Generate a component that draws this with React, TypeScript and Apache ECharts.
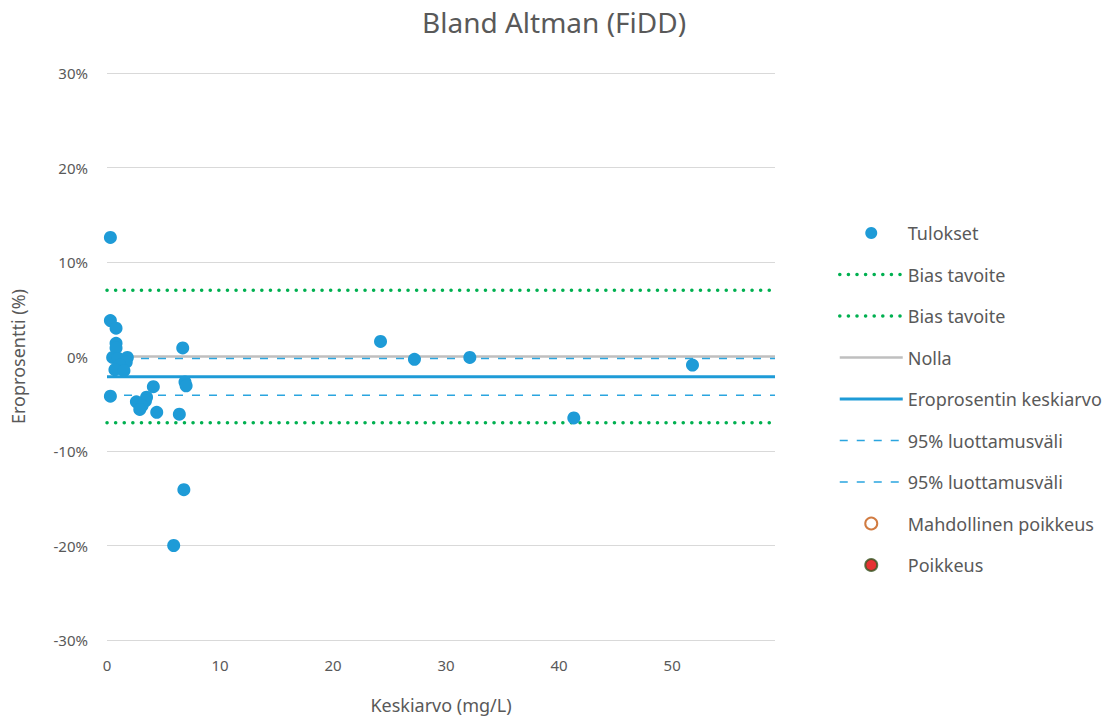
import React, { useEffect, useRef } from "react";
import * as echarts from "echarts";

// Bland-Altman points: x = average (mg/L), y = difference (%)
const avgValues = [0.3, 0.3, 0.8, 0.8, 0.8, 0.5, 1.0, 1.8, 1.7, 1.1, 0.7, 1.5, 0.3, 6.7, 6.9, 7.0, 4.1, 3.5, 3.4, 2.6, 3.1, 2.9, 4.4, 6.4, 6.8, 5.9, 24.2, 27.2, 32.1, 41.3, 51.8];
const diffValues = [12.6, 3.8, 3.0, 1.4, 0.9, -0.1, -0.2, -0.1, -0.6, -0.9, -1.4, -1.5, -4.2, 0.9, -2.7, -3.1, -3.2, -4.3, -4.7, -4.8, -5.2, -5.6, -5.9, -6.1, -14.1, -20.0, 1.6, -0.3, -0.1, -6.5, -0.9];

const biasTargetUpper = 7;
const biasTargetLower = -7;
const zeroLevel = 0;
const meanDiff = -2.15;
const ciUpper = -0.2;
const ciLower = -4.1;

const xRange = [0, 59.1];
const yTicks = [-30, -20, -10, 0, 10, 20, 30];

const legendNames = [
  "Tulokset",
  "Bias tavoite",
  "Bias tavoite ",
  "Nolla",
  "Eroprosentin keskiarvo",
  "95% luottamusväli",
  "95% luottamusväli ",
  "Mahdollinen poikkeus",
  "Poikkeus",
];
const lineLegendNames = [
  "Bias tavoite",
  "Bias tavoite ",
  "Nolla",
  "Eroprosentin keskiarvo",
  "95% luottamusväli",
  "95% luottamusväli ",
];

const FONT = "'Noto Sans', sans-serif";
const TEXT = "#595959";
const BLUE = "#1E9BD7";

function hLine(v: number) {
  return [
    [xRange[0], v],
    [xRange[1], v],
  ];
}

export default function App() {
  const ref = useRef<HTMLDivElement>(null);
  useEffect(() => {
    if (!ref.current) return;
    const chart = echarts.init(ref.current, undefined, { renderer: "svg" });
    const points = avgValues.map((x, i) => [x, diffValues[i]]);
    const lineBase = {
      type: "line" as const,
      symbol: "none",
      silent: true,
      z: 1,
    };
    chart.setOption({
      animation: false,
      textStyle: { fontFamily: FONT },
      title: {
        text: "Bland Altman (FiDD)",
        left: 417,
        top: 3,
        textStyle: { fontFamily: FONT, fontSize: 28, fontWeight: "normal", color: TEXT },
      },
      grid: { left: 107, right: 343, top: 73, bottom: 79 },
      legend: {
        orient: "vertical",
        left: 838,
        top: 224,
        itemWidth: 63,
        itemHeight: 12,
        itemGap: 23.5,
        padding: 0,
        lineStyle: { width: "inherit" },
        textStyle: { fontFamily: FONT, fontSize: 18, color: TEXT },
        data: legendNames.map((n) =>
          lineLegendNames.includes(n) ? { name: n, itemStyle: { opacity: 0 } } : { name: n }
        ),
      },
      xAxis: {
        type: "value",
        min: xRange[0],
        max: xRange[1],
        interval: 10,
        name: "Keskiarvo (mg/L)",
        nameLocation: "middle",
        nameGap: 56,
        nameTextStyle: { fontFamily: FONT, fontSize: 18, color: TEXT },
        axisLine: { show: false },
        axisTick: { show: false },
        splitLine: { show: false },
        axisLabel: {
          fontFamily: FONT,
          fontSize: 15,
          color: TEXT,
          margin: 17,
          showMaxLabel: false,
        },
      },
      yAxis: {
        type: "value",
        min: yTicks[0],
        max: yTicks[yTicks.length - 1],
        interval: 10,
        name: "Eroprosentti (%)",
        nameLocation: "middle",
        nameGap: 80,
        nameTextStyle: { fontFamily: FONT, fontSize: 18, color: TEXT },
        axisLine: { show: false },
        axisTick: { show: false },
        splitLine: { lineStyle: { color: "#D9D9D9", width: 1 } },
        axisLabel: {
          fontFamily: FONT,
          fontSize: 15,
          color: TEXT,
          margin: 19,
          formatter: (v: number) => `${v}%`,
        },
      },
      series: [
        {
          name: "Nolla",
          ...lineBase,
          data: hLine(zeroLevel),
          lineStyle: { color: "#BFBFBF", width: 2.5 },
          itemStyle: { color: "#BFBFBF" },
        },
        {
          name: "Bias tavoite",
          ...lineBase,
          data: hLine(biasTargetUpper),
          lineStyle: { color: "#00B050", width: 3.5, type: [0.1, 8.5], cap: "round" },
          itemStyle: { color: "#00B050" },
        },
        {
          name: "Bias tavoite ",
          ...lineBase,
          data: hLine(biasTargetLower),
          lineStyle: { color: "#00B050", width: 3.5, type: [0.1, 8.5], cap: "round" },
          itemStyle: { color: "#00B050" },
        },
        {
          name: "Eroprosentin keskiarvo",
          ...lineBase,
          data: hLine(meanDiff),
          lineStyle: { color: BLUE, width: 3 },
          itemStyle: { color: BLUE },
        },
        {
          name: "95% luottamusväli",
          ...lineBase,
          data: hLine(ciUpper),
          lineStyle: { color: "#2AA5DF", width: 1.5, type: [8, 9] },
          itemStyle: { color: "#2AA5DF" },
        },
        {
          name: "95% luottamusväli ",
          ...lineBase,
          data: hLine(ciLower),
          lineStyle: { color: "#2AA5DF", width: 1.5, type: [8, 9] },
          itemStyle: { color: "#2AA5DF" },
        },
        {
          name: "Tulokset",
          type: "scatter",
          symbol: "circle",
          symbolSize: 13,
          z: 3,
          data: points,
          itemStyle: { color: BLUE, opacity: 1 },
        },
        {
          name: "Mahdollinen poikkeus",
          type: "scatter",
          symbol: "circle",
          symbolSize: 11,
          data: [],
          itemStyle: { color: "#FFFFFF", borderColor: "#C55A11", borderWidth: 2 },
        },
        {
          name: "Poikkeus",
          type: "scatter",
          symbol: "circle",
          symbolSize: 11,
          data: [],
          itemStyle: { color: "#E00000", borderColor: "#375623", borderWidth: 1.5 },
        },
      ],
    });
    return () => chart.dispose();
  }, []);
  return <div ref={ref} style={{ width: 1118, height: 719, marginLeft: -8, marginTop: -8 }} />;
}
